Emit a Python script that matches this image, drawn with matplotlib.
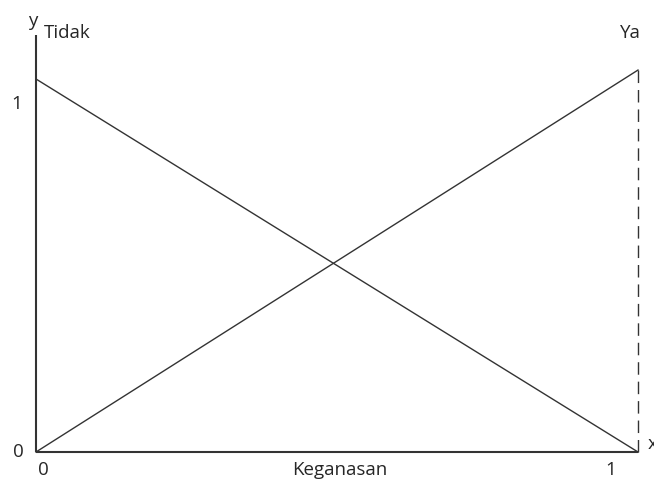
import matplotlib.pyplot as plt

# membership functions for "Keganasan"
x_vals = [0, 1]
tidak = [1.0, 0.0]
ya = [0.0, 1.024]

x_ticks = [0, 1]
x_tick_labels = ['0', '1']
y_ticks = [0, 1]
y_tick_labels = ['0', '1']

plt.rcParams['font.family'] = ['Open Sans', 'DejaVu Sans']

fig = plt.figure(figsize=(6.54, 4.84), dpi=100)
ax = fig.add_axes([0, 0, 1, 1])
ax.axis('off')

# pixel-based frame: x 0->36px, 1->638px ; y 0->452px, 1->79px
sx, sy = 602.0, 373.0
ax.set_xlim(-36 / sx, (654 - 36) / sx)
ax.set_ylim(-(484 - 452) / sy, 452 / sy)


def px(x, y):
    # pixel coords (from top-left) -> data coords
    return (x - 36) / sx, (452 - y) / sy


col = '#333333'
txt = '#262626'
# axes
ax.plot([0, 0], [0, (452 - 35) / sy], color=col, lw=1.5, solid_capstyle='butt')
ax.plot([0, 1], [0, 0], color=col, lw=1.5, solid_capstyle='butt')

# membership lines
ax.plot(x_vals, tidak, color=col, lw=1.0)
ax.plot(x_vals, ya, color=col, lw=1.0)
ax.plot([1, 1], [0, ya[-1]], color=col, lw=1.0, ls=(0, (9, 5)))

fs = 13.5
# tick labels
ax.text(*px(18, 452), y_tick_labels[0], fontsize=fs, ha='center', va='center', color=txt)
ax.text(*px(17, 104), y_tick_labels[1], fontsize=fs, ha='center', va='center', color=txt)
ax.text(*px(43, 470), x_tick_labels[0], fontsize=fs, ha='center', va='center', color=txt)
ax.text(*px(611, 470), x_tick_labels[1], fontsize=fs, ha='center', va='center', color=txt)

ax.text(*px(340, 470), 'Keganasan', fontsize=fs, ha='center', va='center', color=txt)
ax.text(*px(33, 21), 'y', fontsize=fs, ha='center', va='center', color=txt)
ax.text(*px(648, 444), 'x', fontsize=fs, ha='left', va='center', color=txt)
ax.text(*px(44, 33), 'Tidak', fontsize=fs, ha='left', va='center', color=txt)
ax.text(*px(641, 33), 'Ya', fontsize=fs, ha='right', va='center', color=txt)

fig.savefig('out.png', dpi=100)
